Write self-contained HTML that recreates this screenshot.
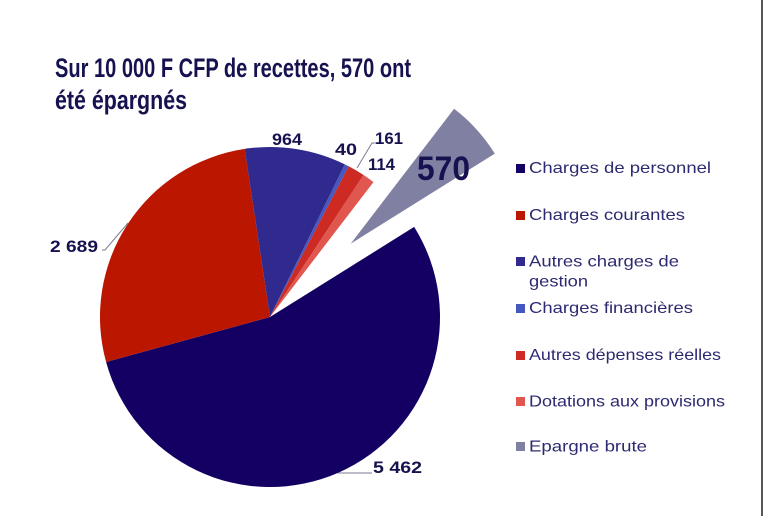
<!DOCTYPE html>
<html>
<head>
<meta charset="utf-8">
<style>
  html, body { margin:0; padding:0; background:#ffffff; }
  body { width:764px; height:516px; overflow:hidden; position:relative; }
  svg { display:block; }
</style>
</head>
<body>
<svg width="764" height="516" viewBox="0 0 764 516" xmlns="http://www.w3.org/2000/svg">
  <rect x="0" y="0" width="764" height="516" fill="#ffffff"/>
  <!-- right border -->
  <rect x="761" y="0" width="2" height="516" fill="#525a5a"/>

  <!-- Title -->
  <g font-family="'Liberation Sans', sans-serif" font-weight="bold" font-size="27" fill="#16124f">
    <text x="55" y="77" textLength="356" lengthAdjust="spacingAndGlyphs">Sur 10 000 F CFP de recettes, 570 ont</text>
    <text x="55" y="109" textLength="132" lengthAdjust="spacingAndGlyphs">été épargnés</text>
  </g>

  <!-- Pie: center (270,317), r=170 -->
  <path d="M270,317 L414.16,226.92 A170,170 0 1 1 106.08,362.06 Z" fill="#140062"/>
  <path d="M270,317 L106.08,362.06 A170,170 0 0 1 244.67,148.90 Z" fill="#bb1600"/>
  <path d="M270,317 L244.67,148.90 A170,170 0 0 1 344.89,164.39 Z" fill="#302a8e"/>
  <path d="M270,317 L344.89,164.39 A170,170 0 0 1 348.71,166.31 Z" fill="#4558c0"/>
  <path d="M270,317 L348.71,166.31 A170,170 0 0 1 363.53,175.05 Z" fill="#cc2a22"/>
  <path d="M270,317 L363.53,175.05 A170,170 0 0 1 373.45,182.09 Z" fill="#e0574f"/>
  <path d="M350.66,243.69 L454.11,108.78 A170,170 0 0 1 494.82,153.61 Z" fill="#8080a2"/>

  <!-- Leader lines -->
  <g stroke="#7a7a92" stroke-width="1" fill="none">
    <polyline points="376,143 372,143 357,168"/>
    <polyline points="102,250 105,250 128,223"/>
    <polyline points="338,473 372,473"/>
  </g>

  <!-- Data labels -->
  <g font-family="'Liberation Sans', sans-serif" font-weight="bold" font-size="17" fill="#16124f">
    <text x="272" y="145" textLength="30" lengthAdjust="spacingAndGlyphs">964</text>
    <text x="335" y="155" textLength="22" lengthAdjust="spacingAndGlyphs">40</text>
    <text x="375" y="144" textLength="28" lengthAdjust="spacingAndGlyphs">161</text>
    <text x="368" y="170" textLength="27" lengthAdjust="spacingAndGlyphs">114</text>
    <text x="50" y="252" textLength="48" lengthAdjust="spacingAndGlyphs">2 689</text>
    <text x="373" y="473" textLength="49" lengthAdjust="spacingAndGlyphs">5 462</text>
  </g>
  <text x="417" y="180" font-family="'Liberation Sans', sans-serif" font-weight="bold" font-size="34" fill="#16124f" textLength="53" lengthAdjust="spacingAndGlyphs">570</text>

  <!-- Legend -->
  <g>
    <rect x="516" y="164" width="9" height="9" fill="#140062"/>
    <rect x="516" y="211" width="9" height="9" fill="#bb1600"/>
    <rect x="516" y="257" width="9" height="9" fill="#302a8e"/>
    <rect x="516" y="304" width="9" height="9" fill="#4558c0"/>
    <rect x="516" y="351" width="9" height="9" fill="#cc2a22"/>
    <rect x="516" y="397" width="9" height="9" fill="#e0574f"/>
    <rect x="516" y="442" width="9" height="9" fill="#8080a2"/>
  </g>
  <g font-family="'Liberation Sans', sans-serif" font-size="16" fill="#2c2a70">
    <text x="529" y="173" textLength="182" lengthAdjust="spacingAndGlyphs">Charges de personnel</text>
    <text x="529" y="220" textLength="156" lengthAdjust="spacingAndGlyphs">Charges courantes</text>
    <text x="529" y="266.5" textLength="150" lengthAdjust="spacingAndGlyphs">Autres charges de</text>
    <text x="529" y="286.5" textLength="59" lengthAdjust="spacingAndGlyphs">gestion</text>
    <text x="529" y="313" textLength="164" lengthAdjust="spacingAndGlyphs">Charges financières</text>
    <text x="529" y="360" textLength="192" lengthAdjust="spacingAndGlyphs">Autres dépenses réelles</text>
    <text x="529" y="406.5" textLength="196" lengthAdjust="spacingAndGlyphs">Dotations aux provisions</text>
    <text x="529" y="451.5" textLength="118" lengthAdjust="spacingAndGlyphs">Epargne brute</text>
  </g>
</svg>
</body>
</html>
